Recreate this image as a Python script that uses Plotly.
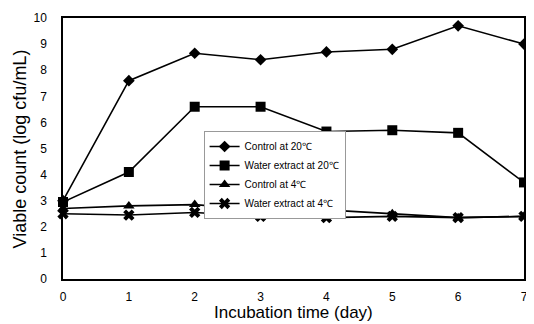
import plotly.graph_objects as go

days = [0, 1, 2, 3, 4, 5, 6, 7]
control_20 = [3.0, 7.6, 8.65, 8.4, 8.7, 8.8, 9.7, 9.0]
water_20 = [2.95, 4.1, 6.6, 6.6, 5.65, 5.7, 5.6, 3.7]
control_4 = [2.7, 2.8, 2.85, 2.65, 2.65, 2.5, 2.35, 2.4]
water_4 = [2.5, 2.45, 2.55, 2.4, 2.35, 2.4, 2.35, 2.4]

names = ["Control at 20℃", "Water extract at 20℃", "Control at 4℃", "Water extract at 4℃"]
series = [control_20, water_20, control_4, water_4]
symbols = ["diamond", "square", "triangle-up", "x"]
sizes = [9, 10, 10, 10]

fig = go.Figure()
for n, s, sym, sz in zip(names, series, symbols, sizes):
    fig.add_trace(go.Scatter(x=days, y=s, name=n, mode="lines+markers", cliponaxis=False,
                             line=dict(color="black", width=1.6),
                             marker=dict(symbol=sym, size=sz, color="black")))

# page body has an 8px margin, so the figure is offset by 8px
fig.update_layout(
    width=526, height=316,
    margin=dict(l=55, r=10, t=10, b=45),
    paper_bgcolor="white", plot_bgcolor="white",
    font=dict(family="Liberation Sans, Arial, sans-serif", color="black", size=12),
    showlegend=True,
    legend=dict(x=0.305, y=0.567, xanchor="left", yanchor="top",
                bgcolor="white", bordercolor="#999", borderwidth=1,
                font=dict(size=10), tracegroupgap=0),
    xaxis=dict(range=[0, 7], tickvals=days, showgrid=False, zeroline=False,
               showline=True, linecolor="black", linewidth=1.5, mirror=True,
               ticks="", automargin=False, ticklabelstandoff=6, ticklabeloverflow="allow"),
    yaxis=dict(range=[0, 10], dtick=1, showgrid=False, zeroline=False,
               showline=True, linecolor="black", linewidth=1.5, mirror=True,
               ticks="", automargin=False, ticklabelstandoff=12, ticklabeloverflow="allow"),
    annotations=[
        dict(text="Incubation time (day)", xref="paper", yref="paper", x=0.5, y=-0.128,
             xanchor="center", yanchor="middle", showarrow=False, font=dict(size=17)),
        dict(text="Viable count (log cfu/mL)", xref="paper", yref="paper", x=-0.0935, y=0.5,
             xanchor="center", yanchor="middle", showarrow=False, textangle=-90, font=dict(size=18)),
    ],
)
fig.write_html("out.html")
